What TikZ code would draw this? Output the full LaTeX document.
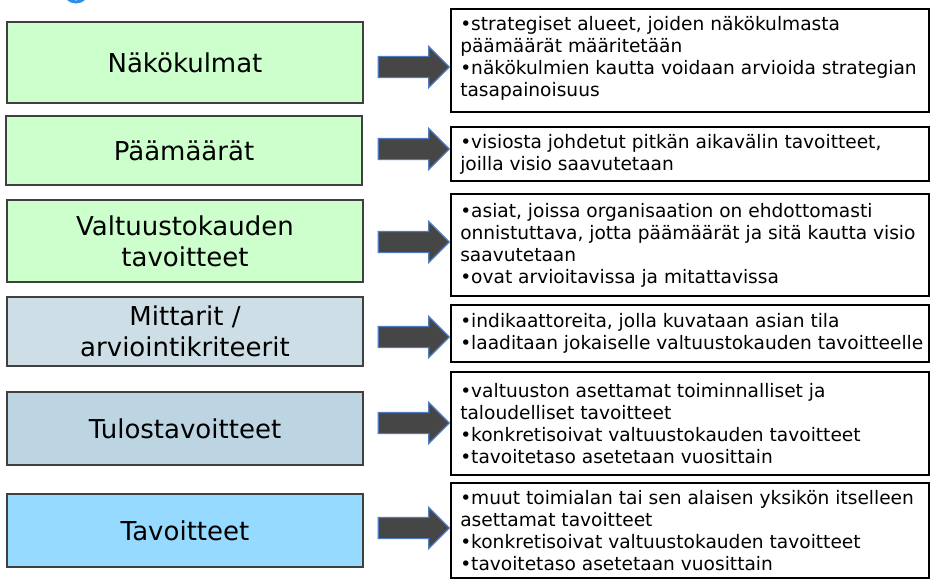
\documentclass[tikz,border=0pt]{standalone}
\usepackage{fontspec}
\setmainfont{DejaVu Sans}
\usetikzlibrary{shapes.arrows}

\definecolor{greenfill}{HTML}{CCFFCC}
\definecolor{mittfill}{HTML}{CEDEE7}
\definecolor{tulosfill}{HTML}{BDD4E2}
\definecolor{tavfill}{HTML}{97DAFF}
\definecolor{leftedge}{HTML}{404040}
\definecolor{arrowfill}{HTML}{464646}
\definecolor{arrowedge}{HTML}{4F7BC0}
\definecolor{topblue}{HTML}{2A90EC}

\begin{document}
\begin{tikzpicture}[x=1pt,y=-1pt,
  leftbox/.style={draw=leftedge, line width=1.3pt, minimum width=356pt,
    inner sep=0pt, align=center, font=\fontsize{26}{31}\selectfont},
  infobox/.style={draw=black, line width=1.9pt, minimum width=478pt, inner sep=0pt},
  infotext/.style={anchor=west, inner sep=0pt, align=left,
    font=\fontsize{18.6}{22}\selectfont},
  blockarrow/.style={single arrow, draw=arrowedge, fill=arrowfill, line width=1.2pt,
    minimum height=71pt, inner sep=10pt, single arrow head extend=10pt}
]
\useasboundingbox (0,0) rectangle (931,586);
\fill[white] (0,0) rectangle (931,586);

% partial ring at the upper edge
\begin{scope}
  \clip (0,0) rectangle (931,586);
  \draw[topblue, line width=3pt] (76,-10) circle [radius=12pt];
\end{scope}

% concept boxes on the left
\node[leftbox, fill=greenfill, minimum height=81pt] (k1) at (185,62.5) {Näkökulmat};
\node[leftbox, fill=greenfill, minimum height=69pt] (k2) at (184,150.5) {Päämäärät};
\node[leftbox, fill=greenfill, minimum height=82pt] (k3) at (185,241) {Valtuustokauden\\tavoitteet};
\node[leftbox, fill=mittfill, minimum height=69pt] (k4) at (185,331.5) {Mittarit /\\arviointikriteerit};
\node[leftbox, fill=tulosfill, minimum height=73pt] (k5) at (185,428.5) {Tulostavoitteet};
\node[leftbox, fill=tavfill, minimum height=73pt] (k6) at (185,530.5) {Tavoitteet};

% description boxes on the right
\node[infobox, minimum height=103pt] (r1) at (690,60.5) {};
\node[infobox, minimum height=54pt]  (r2) at (690,154) {};
\node[infobox, minimum height=102pt] (r3) at (690,245) {};
\node[infobox, minimum height=57pt]  (r4) at (690,333.5) {};
\node[infobox, minimum height=103pt] (r5) at (690,423.5) {};
\node[infobox, minimum height=95pt]  (r6) at (690,530.5) {};

\node[infotext] (t1) at ([xshift=10pt,yshift=2pt]r1.west) {•strategiset alueet, joiden näkökulmasta\\päämäärät määritetään\\•näkökulmien kautta voidaan arvioida strategian\\tasapainoisuus};
\node[infotext] (t2) at ([xshift=10pt]r2.west) {•visiosta johdetut pitkän aikavälin tavoitteet,\\joilla visio saavutetaan};
\node[infotext] (t3) at ([xshift=10pt]r3.west) {•asiat, joissa organisaation on ehdottomasti\\onnistuttava, jotta päämäärät ja sitä kautta visio\\saavutetaan\\•ovat arvioitavissa ja mitattavissa};
\node[infotext] (t4) at ([xshift=10pt]r4.west) {•indikaattoreita, jolla kuvataan asian tila\\•laaditaan jokaiselle valtuustokauden tavoitteelle};
\node[infotext] (t5) at ([xshift=10pt]r5.west) {•valtuuston asettamat toiminnalliset ja\\taloudelliset tavoitteet\\•konkretisoivat valtuustokauden tavoitteet\\•tavoitetaso asetetaan vuosittain};
\node[infotext] (t6) at ([xshift=10pt]r6.west) {•muut toimialan tai sen alaisen yksikön itselleen\\asettamat tavoitteet\\•konkretisoivat valtuustokauden tavoitteet\\•tavoitetaso asetetaan vuosittain};

% block arrows between the columns
\node[blockarrow] (a1) at (408.5,67) {};
\node[blockarrow] (a2) at (408.5,149) {};
\node[blockarrow] (a3) at (408.5,242) {};
\node[blockarrow] (a4) at (408.5,337) {};
\node[blockarrow] (a5) at (408.5,423) {};
\node[blockarrow] (a6) at (408.5,528) {};
\end{tikzpicture}
\end{document}
